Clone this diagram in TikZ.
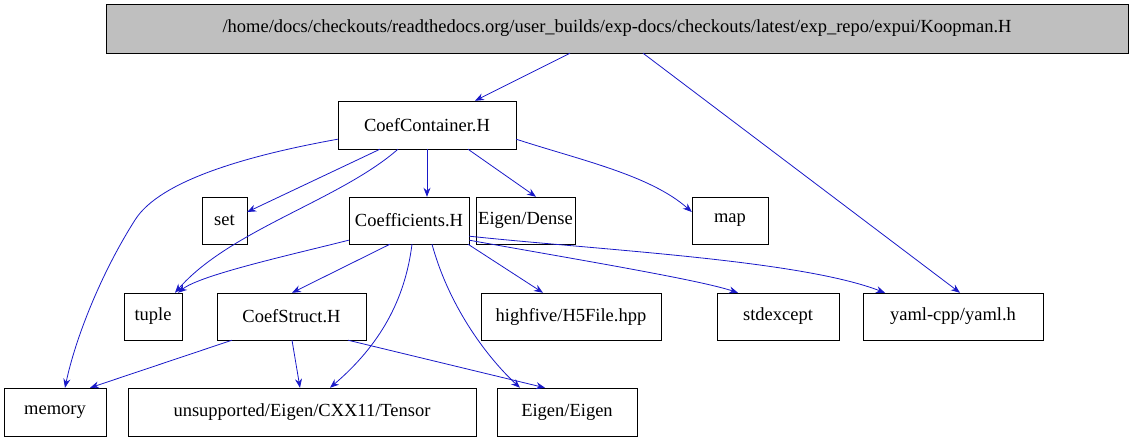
\documentclass[tikz,border=0pt]{standalone}
\usepackage{fontspec}
\setmainfont{Liberation Serif}
\usetikzlibrary{arrows.meta}
\begin{document}
\begin{tikzpicture}[x=1pt,y=-1pt,
  box/.style={draw=black,fill=white,inner sep=0pt,font=\fontsize{18.5}{20}\selectfont},
  e/.style={draw={rgb,255:red,25;green,25;blue,200},-{Stealth[length=9pt,width=7pt]},line width=0.8pt}]
\useasboundingbox (0,0) rectangle (1133,443);
\newcommand\bx[6]{\node[box,minimum width=#4-#3,minimum height=#6-#5] (#1) at ({(#3+#4)/2},{(#5+#6)/2}) {#2};}
\node[box,fill={rgb,255:red,191;green,191;blue,191},minimum width=1022,minimum height=49] (top) at (617,28.5) {/home/docs/checkouts/readthedocs.org/user\_builds/exp-docs/checkouts/latest/exp\_repo/expui/Koopman.H};
\bx{cc}{CoefContainer.H}{338}{516}{101}{149}
\bx{set}{set}{202}{247}{197}{244}
\bx{co}{Coefficients.H}{349}{469}{197}{244}
\bx{ed}{Eigen/Dense}{476}{575}{197}{244}
\bx{map}{map}{692}{768}{197}{244}
\bx{tuple}{tuple}{124}{182}{293}{340}
\bx{cs}{CoefStruct.H}{217}{366}{293}{340}
\bx{hf}{highfive/H5File.hpp}{481}{661}{293}{340}
\bx{se}{stdexcept}{717}{839}{293}{340}
\bx{ya}{yaml-cpp/yaml.h}{863}{1043}{293}{340}
\bx{mem}{memory}{4}{106}{388}{436}
\bx{un}{unsupported/Eigen/CXX11/Tensor}{128}{476}{388}{436}
\bx{ee}{Eigen/Eigen}{497}{637}{388}{436}
\draw[e] (top.south -| 570,0) -- (cc.north -| 475,0);
\draw[e] (top.south -| 643,0) -- (ya.north -| 960,0);
\draw[e] (cc.south west) ++(0,-10) .. controls (250,155) and (160,180) .. (135,220) .. controls (100,275) and (75,340) .. (mem.north -| 65,0);
\draw[e] (cc.south -| 380,0) -- (set.east |- 0,212);
\draw[e] (cc.south -| 398,0) .. controls (340,200) and (230,230) .. (tuple.north -| 175,0);
\draw[e] (cc) ++(0,24) -- (co.north -| 427,0);
\draw[e] (cc.south -| 468,0) -- (ed.north -| 536,0);
\draw[e] (cc.south east) ++(0,-10) .. controls (580,160) and (650,175) .. (map.west |- 0,212);
\draw[e] (co.south west) ++(0,-4) .. controls (290,255) and (200,275) .. (tuple.north -| 178,0);
\draw[e] (co.south -| 390,0) -- (cs.north -| 292,0);
\draw[e] (co.south -| 412,0) .. controls (405,300) and (380,345) .. (un.north -| 330,0);
\draw[e] (co.south -| 432,0) .. controls (450,310) and (490,360) .. (ee.north -| 520,0);
\draw[e] (co.south -| 468,0) -- (hf.north -| 543,0);
\draw[e] (co.south east) ++(0,-4) .. controls (580,260) and (700,280) .. (se.north -| 738,0);
\draw[e] (co.south east) ++(0,-8) .. controls (600,250) and (800,260) .. (ya.north -| 885,0);
\draw[e] (cs.south -| 232,0) -- (mem.north -| 90,0);
\draw[e] (cs.south -| 292,0) -- (un.north -| 300,0);
\draw[e] (cs.south -| 348,0) -- (ee.north -| 545,0);
\end{tikzpicture}
\end{document}
